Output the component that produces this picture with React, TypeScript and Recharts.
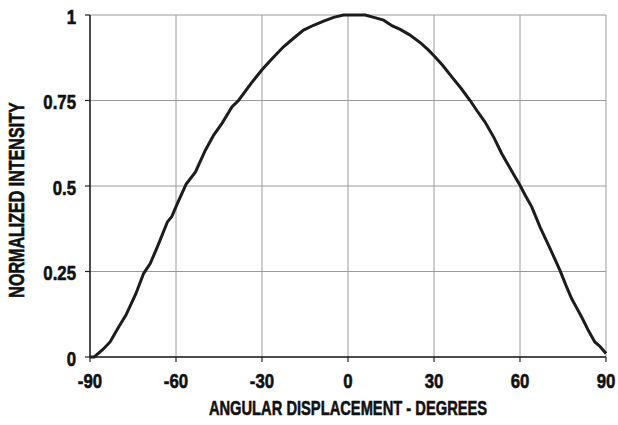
import React from "react";
import {
  LineChart,
  Line,
  XAxis,
  YAxis,
  CartesianGrid,
  Label,
} from "recharts";

// Angular positions (degrees) of the measured samples
const angles: number[] = [
  -90, -88.5, -87.5, -85.5, -83, -80, -77.5, -74, -71.3, -69, -66.5, -63,
  -61.5, -59.5, -56.5, -53.2, -49.8, -46.9, -43.9, -40.5, -38.2, -33.8, -30,
  -26.5, -22.5, -19, -15.5, -12, -8.5, -5, -1.6, 2, 6, 9, 12.4, 15.5, 18.2,
  21.5, 25.5, 28, 30.4, 33, 36.2, 39.5, 42.6, 45, 47.8, 51, 53.6, 56, 58.3,
  60, 62, 64.1, 67, 70.5, 73.9, 76, 78, 80, 81.5, 84, 86.1, 88, 90,
];

// Normalized intensity at each angle
const intensity: number[] = [
  0, 0, 0.008, 0.022, 0.044, 0.088, 0.122, 0.185, 0.244, 0.273, 0.322, 0.395,
  0.41, 0.449, 0.505, 0.541, 0.604, 0.648, 0.684, 0.731, 0.75, 0.8, 0.84,
  0.872, 0.907, 0.932, 0.956, 0.97, 0.982, 0.993, 1.0, 1.0, 1.0, 0.993,
  0.985, 0.968, 0.958, 0.942, 0.917, 0.898, 0.877, 0.853, 0.819, 0.785, 0.75,
  0.72, 0.687, 0.64, 0.595, 0.56, 0.526, 0.502, 0.47, 0.439, 0.38, 0.317,
  0.254, 0.21, 0.171, 0.14, 0.117, 0.075, 0.044, 0.03, 0.01,
];

const xTicks: number[] = [-90, -60, -30, 0, 30, 60, 90];
const yTicks: number[] = [0, 0.25, 0.5, 0.75, 1];

const xTitle = "ANGULAR DISPLACEMENT - DEGREES";
const yTitle = "NORMALIZED INTENSITY";

const data = angles.map((a, i) => ({ angle: a, value: intensity[i] }));

const FONT = "'Liberation Sans', Arial, sans-serif";
const INK = "#111";

// Bold condensed lettering: a regular bold face squeezed horizontally
const Condensed = ({
  x,
  y,
  rotate = 0,
  squeeze,
  size,
  anchor,
  dy,
  children,
}: {
  x: number;
  y: number;
  rotate?: number;
  squeeze: number;
  size: number;
  anchor: "start" | "middle" | "end";
  dy: string;
  children: React.ReactNode;
}) => (
  <g transform={`translate(${x}, ${y}) rotate(${rotate})`}>
    <text
      transform={`scale(${squeeze}, 1)`}
      x={0}
      y={0}
      dy={dy}
      textAnchor={anchor}
      fontFamily={FONT}
      fontSize={size}
      fontWeight={700}
      fill={INK}
      stroke={INK}
      strokeWidth={0.6}
    >
      {children}
    </text>
  </g>
);

const XTick = (props: any) => {
  const { x, y, payload } = props;
  return (
    <Condensed x={x} y={y} squeeze={0.8} size={21} anchor="middle" dy="0.7em">
      {payload.value}
    </Condensed>
  );
};

const YTick = (props: any) => {
  const { x, y, payload } = props;
  return (
    <Condensed x={x} y={y} squeeze={0.8} size={21} anchor="end" dy="0.42em">
      {payload.value}
    </Condensed>
  );
};

const XTitle = (props: any) => {
  const { viewBox } = props;
  return (
    <Condensed
      x={viewBox.x + viewBox.width / 2}
      y={viewBox.y + viewBox.height - 10}
      squeeze={0.7}
      size={21}
      anchor="middle"
      dy="0"
    >
      {xTitle}
    </Condensed>
  );
};

const YTitle = () => (
  <Condensed x={24} y={200} rotate={-90} squeeze={0.73} size={22} anchor="middle" dy="0">
    {yTitle}
  </Condensed>
);

export default function App() {
  return (
    <>
      <style>{`body { margin: 0; overflow: hidden; }`}</style>
      <LineChart
        width={618}
        height={425}
        data={data}
        margin={{ top: 15, right: 12, left: 0, bottom: 0 }}
        style={{ background: "#fff", overflow: "visible" }}
      >
        <CartesianGrid stroke="#9a9a9a" strokeWidth={1} />
        <XAxis
          dataKey="angle"
          type="number"
          domain={[-90, 90]}
          ticks={xTicks}
          interval={0}
          height={68}
          tickSize={5}
          tickMargin={11}
          tick={<XTick />}
          axisLine={{ stroke: "#222", strokeWidth: 1.5 }}
          tickLine={{ stroke: "#222", strokeWidth: 1.2 }}
        >
          <Label content={<XTitle />} />
        </XAxis>
        <YAxis
          type="number"
          domain={[0, 1]}
          ticks={yTicks}
          interval={0}
          width={90}
          tickSize={5}
          tickMargin={9}
          tick={<YTick />}
          axisLine={{ stroke: "#222", strokeWidth: 1.5 }}
          tickLine={{ stroke: "#222", strokeWidth: 1.2 }}
        >
          <Label content={<YTitle />} />
        </YAxis>
        <Line
          type="linear"
          dataKey="value"
          stroke="#1c1c1c"
          strokeWidth={3}
          dot={false}
          isAnimationActive={false}
        />
      </LineChart>
    </>
  );
}
